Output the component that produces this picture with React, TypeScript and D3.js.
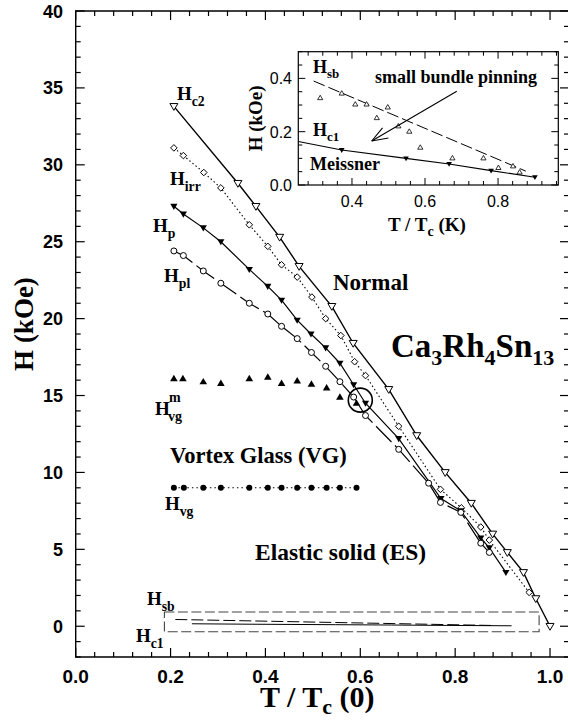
import * as d3 from 'd3';

// main panel series: [T/Tc(0), H (kOe)]
const hc2 = [
  [0.207, 33.8], [0.342, 28.8], [0.38, 27.3], [0.43, 25.3], [0.471, 23.4], [0.54, 20.8],
  [0.585, 18.4], [0.66, 15.4], [0.719, 12.4], [0.779, 10.0], [0.834, 8.0], [0.879, 6.0],
  [0.91, 4.8], [0.944, 3.5], [0.97, 1.8], [1.0, 0.0],
];
const hirr = [
  [0.207, 31.1], [0.227, 30.6], [0.27, 29.5], [0.306, 28.5], [0.366, 26.1], [0.405, 24.7],
  [0.434, 23.5], [0.467, 22.7], [0.498, 21.4], [0.527, 20.0], [0.559, 18.9], [0.588, 17.2],
  [0.611, 16.3], [0.681, 13.0], [0.769, 8.9], [0.813, 7.7], [0.854, 6.45], [0.872, 5.6], [0.956, 2.2],
];
const hp = [
  [0.207, 27.3], [0.227, 26.8], [0.269, 25.9], [0.306, 25.0], [0.366, 23.2], [0.405, 22.1],
  [0.434, 21.2], [0.467, 19.9], [0.496, 19.0], [0.527, 18.1], [0.557, 17.1], [0.586, 15.7],
  [0.611, 14.5], [0.681, 12.2], [0.77, 8.3], [0.812, 7.5], [0.854, 5.74], [0.872, 5.1], [0.907, 3.5],
];
const hpl = [
  [0.207, 24.4], [0.227, 24.1], [0.269, 23.1], [0.306, 22.3], [0.366, 21.0], [0.405, 20.3],
  [0.434, 19.5], [0.467, 18.7], [0.497, 17.8], [0.527, 16.9], [0.557, 15.9], [0.586, 14.9],
  [0.611, 13.7], [0.681, 11.5], [0.744, 9.3], [0.769, 8.05], [0.812, 7.4], [0.854, 5.4], [0.872, 4.8],
];
const hvgm = [
  [0.207, 16.1], [0.226, 16.1], [0.269, 15.9], [0.306, 15.8], [0.366, 16.1], [0.405, 16.2],
  [0.434, 15.8], [0.467, 15.95], [0.497, 15.75], [0.529, 15.5], [0.557, 14.9], [0.592, 14.5],
];
const hvg = [
  [0.207, 9], [0.228, 9], [0.269, 9], [0.306, 9], [0.366, 9], [0.405, 9],
  [0.434, 9], [0.467, 9], [0.497, 9], [0.529, 9], [0.557, 9], [0.592, 9],
];
// low-field lines redrawn in the main panel
const hsbMain = [[0.21, 0.44], [0.876, 0.052]];
const hc1Main = [[0.245, 0.16], [0.372, 0.131], [0.548, 0.1], [0.666, 0.079], [0.781, 0.054], [0.919, 0.029]];
const lowBox = [[0.187, -0.36], [0.977, 0.93]];
const crossing = [0.6, 14.7];

// inset
const hsbPts = [
  [0.313, 0.327], [0.372, 0.344], [0.409, 0.303], [0.44, 0.303], [0.468, 0.252], [0.498, 0.292],
  [0.527, 0.221], [0.557, 0.201], [0.587, 0.141], [0.675, 0.101], [0.76, 0.101], [0.801, 0.065],
  [0.841, 0.071], [0.859, 0.048],
];
const hsbLine = [[0.295, 0.39], [0.876, 0.052]];
const hc1Pts = [[0.372, 0.131], [0.548, 0.1], [0.666, 0.079], [0.781, 0.054], [0.901, 0.029]];
const hc1Line = [[0.253, 0.163], [0.372, 0.131], [0.548, 0.1], [0.666, 0.079], [0.781, 0.054], [0.901, 0.029]];
const arrowPts = [[0.687, 0.352], [0.454, 0.165]];

const xTicks = [0, 0.2, 0.4, 0.6, 0.8, 1.0];
const yTicks = [0, 5, 10, 15, 20, 25, 30, 35, 40];
const ixTicks = [0.4, 0.6, 0.8];
const iyTicks = [0, 0.2, 0.4];

const SERIF = '"Liberation Serif", "Times New Roman", serif';
const SANS = '"Liberation Sans", Arial, sans-serif';

const x = d3.scaleLinear().domain([0, 1.04]).range([75.7, 569]);
const y = d3.scaleLinear().domain([-2, 40]).range([657, 11]);
const ix = d3.scaleLinear().domain([0.253, 0.965]).range([298.3, 558.3]);
const iy = d3.scaleLinear().domain([0, 0.5]).range([185, 51.7]);

const triDown = (cx: number, cy: number, s: number) =>
  `M${cx - s},${cy - s * 0.7}L${cx + s},${cy - s * 0.7}L${cx},${cy + s}Z`;
const triUp = (cx: number, cy: number, s: number) =>
  `M${cx - s},${cy + s * 0.7}L${cx + s},${cy + s * 0.7}L${cx},${cy - s}Z`;
const diamond = (cx: number, cy: number, s: number) =>
  `M${cx},${cy - s}L${cx + s},${cy}L${cx},${cy + s}L${cx - s},${cy}Z`;

function Sub({ x0, y0, main, sub, size = 19, sup }: any) {
  return (
    <text x={x0} y={y0} fontFamily={SERIF} fontWeight="bold" fontSize={size} fill="#000">
      {main}
      <tspan dy={size * 0.3} fontSize={size * 0.72}>{sub}</tspan>
    </text>
  );
}

export default function App() {
  const line = (sx: any, sy: any) => d3.line<number[]>().x((d) => sx(d[0])).y((d) => sy(d[1]));
  const ml = line(x, y);
  const il = line(ix, iy);

  const xMinor = d3.range(0, 1.0401, 0.04);
  const yMinor = d3.range(-2, 40.01, 1);
  const ixMinor = d3.range(0.28, 0.965, 0.04);
  const iyMinor = d3.range(0, 0.501, 0.05);

  const [x0, x1] = x.range();
  const [yb, yt] = y.range();
  const [ix0, ix1] = ix.range();
  const [iyb, iyt] = iy.range();

  // inset arrow
  const ax0 = ix(arrowPts[0][0]), ay0 = iy(arrowPts[0][1]);
  const ax1 = ix(arrowPts[1][0]), ay1 = iy(arrowPts[1][1]);
  const ang = Math.atan2(ay0 - ay1, ax0 - ax1);
  const wing = (a: number) => `M${ax1},${ay1}L${ax1 + 17 * Math.cos(ang + a)},${ay1 + 17 * Math.sin(ang + a)}`;

  return (
    <div style={{ position: 'absolute', left: 0, top: 0, background: '#fff' }}>
      <svg width={568} height={723} style={{ display: 'block' }}>
        <rect width={568} height={723} fill="#fff" />

        {/* main frame */}
        <path d={`M${x0},${yt}L${x0},${yb}L${x1},${yb}L${x1},${yt}Z`} fill="none" stroke="#000" strokeWidth={1.4} />
        {xMinor.map((t) => {
          const major = Math.abs(t * 5 - Math.round(t * 5)) < 1e-6;
          const L = major ? 9 : 5;
          return (
            <g key={'xt' + t} stroke="#000" strokeWidth={1.2}>
              <line x1={x(t)} x2={x(t)} y1={yb} y2={yb - L} />
              <line x1={x(t)} x2={x(t)} y1={yt} y2={yt + L} />
            </g>
          );
        })}
        {yMinor.map((v) => {
          const major = Math.round(v) % 5 === 0;
          const L = major ? 9 : 5;
          return (
            <g key={'yt' + v} stroke="#000" strokeWidth={1.2}>
              <line x1={x0} x2={x0 + L} y1={y(v)} y2={y(v)} />
              <line x1={x1} x2={x1 - L} y1={y(v)} y2={y(v)} />
            </g>
          );
        })}
        {xTicks.map((t) => (
          <text key={'xl' + t} x={x(t)} y={683} textAnchor="middle" fontFamily={SANS} fontWeight="bold" fontSize={19}>
            {t.toFixed(1)}
          </text>
        ))}
        {yTicks.map((v) => (
          <text key={'yl' + v} x={63} y={y(v) + 6.5} textAnchor="end" fontFamily={SANS} fontWeight="bold" fontSize={18}>
            {v}
          </text>
        ))}
        <text x={0} y={0} transform={`translate(33,${(yt + yb) / 2 - 10}) rotate(-90)`} textAnchor="middle"
          fontFamily={SERIF} fontWeight="bold" fontSize={27}>H (kOe)</text>
        <text x={260} y={707} fontFamily={SERIF} fontWeight="bold" fontSize={30}>
          T / T<tspan dy={7} fontSize={22}>c</tspan><tspan dy={-7}> (0)</tspan>
        </text>

        {/* low field box */}
        <rect x={x(lowBox[0][0])} y={y(lowBox[1][1])} width={x(lowBox[1][0]) - x(lowBox[0][0])}
          height={y(lowBox[0][1]) - y(lowBox[1][1])} fill="none" stroke="#444" strokeWidth={1.1} strokeDasharray="10,3.5" />
        <path d={ml(hsbMain) || ''} fill="none" stroke="#000" strokeWidth={1} strokeDasharray="12,4" />
        <path d={ml(hc1Main) || ''} fill="none" stroke="#000" strokeWidth={1} />

        {/* curves */}
        <path d={ml(hc2) || ''} fill="none" stroke="#000" strokeWidth={1.4} />
        <path d={ml(hirr) || ''} fill="none" stroke="#000" strokeWidth={1.1} strokeDasharray="1.5,2.5" />
        <path d={ml(hp) || ''} fill="none" stroke="#000" strokeWidth={1.2} />
        <path d={ml(hpl) || ''} fill="none" stroke="#000" strokeWidth={1.2} strokeDasharray="22,5" />
        <path d={ml(hvg) || ''} fill="none" stroke="#000" strokeWidth={1.1} strokeDasharray="1.5,3" />

        {hc2.map((d, i) => (
          <path key={'c2' + i} d={triDown(x(d[0]), y(d[1]), 4)} fill="#fff" stroke="#000" strokeWidth={1} />
        ))}
        {hirr.map((d, i) => (
          <path key={'ir' + i} d={diamond(x(d[0]), y(d[1]), 3.3)} fill="#fff" stroke="#000" strokeWidth={1} />
        ))}
        {hp.map((d, i) => (
          <path key={'hp' + i} d={triDown(x(d[0]), y(d[1]), 3.6)} fill="#000" />
        ))}
        {hpl.map((d, i) => (
          <circle key={'pl' + i} cx={x(d[0])} cy={y(d[1])} r={3} fill="#fff" stroke="#000" strokeWidth={1} />
        ))}
        {hvgm.map((d, i) => (
          <path key={'vm' + i} d={triUp(x(d[0]), y(d[1]), 3.8)} fill="#000" />
        ))}
        {hvg.map((d, i) => (
          <circle key={'vg' + i} cx={x(d[0])} cy={y(d[1])} r={3} fill="#000" />
        ))}
        <circle cx={x(crossing[0])} cy={y(crossing[1])} r={12} fill="none" stroke="#000" strokeWidth={1.6} />

        {/* curve labels */}
        <Sub x0={177} y0={100} main="H" sub="c2" />
        <Sub x0={170} y0={185} main="H" sub="irr" />
        <Sub x0={153} y0={232} main="H" sub="p" />
        <Sub x0={164} y0={282} main="H" sub="pl" />
        <text x={155} y={415} fontFamily={SERIF} fontWeight="bold" fontSize={19}>H</text>
        <text x={169} y={402} fontFamily={SERIF} fontWeight="bold" fontSize={14}>m</text>
        <text x={168} y={421} fontFamily={SERIF} fontWeight="bold" fontSize={14}>vg</text>
        <Sub x0={165} y0={510} main="H" sub="vg" />
        <Sub x0={147} y0={605} main="H" sub="sb" />
        <Sub x0={136} y0={642} main="H" sub="c1" />

        <text x={333} y={290} fontFamily={SERIF} fontWeight="bold" fontSize={23}>Normal</text>
        <text x={170} y={463} fontFamily={SERIF} fontWeight="bold" fontSize={22.5}>Vortex Glass (VG)</text>
        <text x={255} y={560} fontFamily={SERIF} fontWeight="bold" fontSize={23.5}>Elastic solid (ES)</text>
        <text x={391} y={357} fontFamily={SERIF} fontWeight="bold" fontSize={33}>
          Ca<tspan dy={8} fontSize={22}>3</tspan>
          <tspan dy={-8}>Rh</tspan><tspan dy={8} fontSize={22}>4</tspan>
          <tspan dy={-8}>Sn</tspan><tspan dy={8} fontSize={22}>13</tspan>
        </text>

        {/* inset */}
        <rect x={ix0} y={iyt} width={ix1 - ix0} height={iyb - iyt} fill="none" stroke="#000" strokeWidth={1.2} />
        {ixMinor.map((t) => {
          const major = ixTicks.some((m) => Math.abs(m - t) < 1e-6);
          const L = major ? 7 : 4;
          return (
            <g key={'ixt' + t} stroke="#000" strokeWidth={1}>
              <line x1={ix(t)} x2={ix(t)} y1={iyb} y2={iyb - L} />
              <line x1={ix(t)} x2={ix(t)} y1={iyt} y2={iyt + L} />
            </g>
          );
        })}
        {iyMinor.map((v) => {
          const major = iyTicks.some((m) => Math.abs(m - v) < 1e-6);
          const L = major ? 7 : 4;
          return (
            <g key={'iyt' + v} stroke="#000" strokeWidth={1}>
              <line x1={ix0} x2={ix0 + L} y1={iy(v)} y2={iy(v)} />
              <line x1={ix1} x2={ix1 - L} y1={iy(v)} y2={iy(v)} />
            </g>
          );
        })}
        {ixTicks.map((t) => (
          <text key={'ixl' + t} x={ix(t)} y={207} textAnchor="middle" fontFamily={SANS} fontSize={16}>{t.toFixed(1)}</text>
        ))}
        {iyTicks.map((v) => (
          <text key={'iyl' + v} x={292} y={iy(v) + 6} textAnchor="end" fontFamily={SANS} fontSize={16}>{v.toFixed(1)}</text>
        ))}
        <text transform={`translate(262,${(iyt + iyb) / 2}) rotate(-90)`} textAnchor="middle"
          fontFamily={SERIF} fontWeight="bold" fontSize={19}>H (kOe)</text>
        <text x={388} y={231} fontFamily={SERIF} fontWeight="bold" fontSize={19}>
          T / T<tspan dy={5} fontSize={14}>c</tspan><tspan dy={-5}> (K)</tspan>
        </text>

        <path d={il(hsbLine) || ''} fill="none" stroke="#000" strokeWidth={1} strokeDasharray="12,4" />
        <path d={il(hc1Line) || ''} fill="none" stroke="#000" strokeWidth={1.1} />
        {hsbPts.map((d, i) => (
          <path key={'sb' + i} d={triUp(ix(d[0]), iy(d[1]), 2.6)} fill="#fff" stroke="#000" strokeWidth={0.8} />
        ))}
        {hc1Pts.map((d, i) => (
          <path key={'c1' + i} d={triDown(ix(d[0]), iy(d[1]), 2.8)} fill="#000" />
        ))}
        <line x1={ax0} y1={ay0} x2={ax1} y2={ay1} stroke="#000" strokeWidth={1.1} />
        <path d={wing(0.35) + wing(-0.35)} fill="none" stroke="#000" strokeWidth={1.1} />

        <Sub x0={313} y0={73} main="H" sub="sb" size={18} />
        <Sub x0={313} y0={136} main="H" sub="c1" size={18} />
        <text x={310} y={170} fontFamily={SERIF} fontWeight="bold" fontSize={18}>Meissner</text>
        <text x={375} y={83} fontFamily={SERIF} fontWeight="bold" fontSize={18}>small bundle pinning</text>
      </svg>
    </div>
  );
}
